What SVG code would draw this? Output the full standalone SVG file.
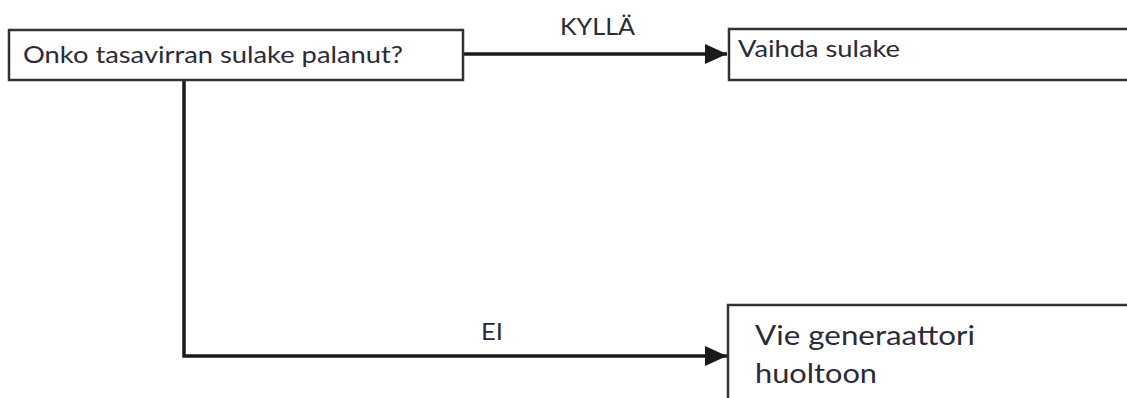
<svg xmlns="http://www.w3.org/2000/svg" width="1127" height="398" viewBox="0 0 1127 398">
<style>
.box{fill:#fff;stroke:#333;stroke-width:2.5}
.t{font-family:Lato,"Open Sans",sans-serif;fill:#2a2a3a}
.c{fill:none;stroke:#1a1a1a;stroke-width:3.5}
</style>
<defs>
<marker id="arr" viewBox="0 0 22 20" refX="22" refY="10" markerWidth="22" markerHeight="20" markerUnits="userSpaceOnUse" orient="auto">
<path d="M0,0 L22,10 L0,20 z" fill="#1a1a1a"/>
</marker>
</defs>
<rect width="1127" height="398" fill="#fff"/>
<g id="connectors">
<path class="c" d="M463,54 L727,54" marker-end="url(#arr)"/>
<path class="c" d="M184,80 L184,356 L727,356" marker-end="url(#arr)"/>
<text class="t" x="560" y="35" font-size="23" textLength="75" lengthAdjust="spacingAndGlyphs">KYLLÄ</text>
<text class="t" x="481" y="340" font-size="23" textLength="22" lengthAdjust="spacingAndGlyphs">EI</text>
</g>
<g id="q">
<rect class="box" x="9" y="30" width="454" height="50"/>
<text class="t" x="23" y="63" font-size="24" textLength="380" lengthAdjust="spacingAndGlyphs">Onko tasavirran sulake palanut?</text>
</g>
<g id="yes">
<rect class="box" x="729" y="29" width="410" height="51"/>
<text class="t" x="738" y="57" font-size="24" textLength="162" lengthAdjust="spacingAndGlyphs">Vaihda sulake</text>
</g>
<g id="no">
<rect class="box" x="728" y="305" width="410" height="110"/>
<text class="t" x="755" y="345" font-size="27" textLength="220" lengthAdjust="spacingAndGlyphs">Vie generaattori</text>
<text class="t" x="755" y="383" font-size="27" textLength="122" lengthAdjust="spacingAndGlyphs">huoltoon</text>
</g>
</svg>
